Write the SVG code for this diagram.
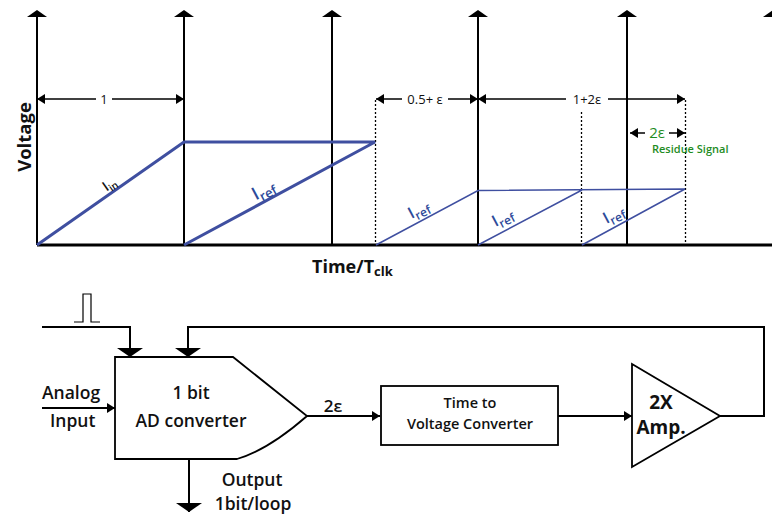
<svg xmlns="http://www.w3.org/2000/svg" width="772" height="516" viewBox="0 0 772 516">
<style>
text{font-family:"Open Sans","Noto Sans","Liberation Sans",sans-serif;fill:#111;}
.b{font-weight:700;}
.sb{font-weight:600;}
.ax{stroke:#000;stroke-width:2;fill:none;}
.base{stroke:#000;stroke-width:3;fill:none;}
.dot{stroke:#000;stroke-width:1.3;stroke-dasharray:2 2;fill:none;}
.dim{stroke:#000;stroke-width:1.5;fill:none;marker-start:url(#dh);marker-end:url(#dh);}
.bl{stroke:#3f4fa0;stroke-width:3;fill:none;}
.blt{stroke:#3f4fa0;stroke-width:1.5;fill:none;}
.ref{fill:#2d4a9a;}
.grn{fill:#1e8c1e;}
.wire{stroke:#000;stroke-width:2;fill:none;}
.blk{stroke:#000;stroke-width:1.8;fill:#fff;}
</style>
<defs>
<marker id="up" viewBox="0 0 7 20" refX="0" refY="10" markerWidth="7" markerHeight="20" markerUnits="userSpaceOnUse" orient="auto"><path d="M0,0 L7,10 L0,20 z" fill="#000"/></marker>
<marker id="dh" viewBox="0 0 8 10" refX="8" refY="5" markerWidth="8" markerHeight="10" markerUnits="userSpaceOnUse" orient="auto-start-reverse"><path d="M0,0 L8,5 L0,10 z" fill="#000"/></marker>
<marker id="ah" viewBox="0 0 8 10" refX="8" refY="5" markerWidth="8" markerHeight="10" markerUnits="userSpaceOnUse" orient="auto"><path d="M0,0 L8,5 L0,10 z" fill="#000"/></marker>
<marker id="fl" viewBox="0 0 9 26" refX="9" refY="13" markerWidth="9" markerHeight="26" markerUnits="userSpaceOnUse" orient="auto"><path d="M0,0 L9,13 L0,26 z" fill="#000"/></marker>
</defs>

<g id="plot">
<g id="axes">
<path class="ax" d="M37,245 V17" marker-end="url(#up)"/>
<path class="ax" d="M184,245 V17" marker-end="url(#up)"/>
<path class="ax" d="M332,245 V17" marker-end="url(#up)"/>
<path class="ax" d="M478,245 V17" marker-end="url(#up)"/>
<path class="ax" d="M627,245 V17" marker-end="url(#up)"/>
<path class="ax" d="M773,245 V17" marker-end="url(#up)"/>
<path class="base" d="M37,245 H772"/>
</g>
<g id="dotted">
<path class="dot" d="M375.5,100 V245"/>
<path class="dot" d="M581.5,112 V245"/>
<path class="dot" d="M685.5,100 V245"/>
</g>
<g id="waveform">
<path class="bl" d="M37,245 L184,142 H375 L184,245"/>
<path class="blt" d="M376,245 L478,190.5 L685,189 L582,245 M478,245 L582,190"/>
</g>
<g id="dims">
<path class="dim" d="M37,99 H184"/>
<rect x="96" y="90" width="16" height="18" fill="#fff"/>
<text x="104" y="104" text-anchor="middle" font-size="13">1</text>
<path class="dim" d="M376,99 H478"/>
<rect x="402" y="90" width="46" height="18" fill="#fff"/>
<text x="425" y="104" text-anchor="middle" font-size="13">0.5+ ε</text>
<path class="dim" d="M478,99 H685"/>
<rect x="566" y="90" width="42" height="18" fill="#fff"/>
<text x="587" y="104" text-anchor="middle" font-size="13">1+2ε</text>
<path class="dim" d="M630,133 H685"/>
<rect x="645" y="125" width="24" height="15" fill="#fff"/>
<text x="657" y="138" text-anchor="middle" font-size="15" class="grn">2ε</text>
<text x="652" y="153" font-size="11" class="grn sb">Residue Signal</text>
</g>
<g id="labels">
<text transform="translate(112,188) rotate(-35)" text-anchor="middle" font-size="14" class="sb">I<tspan font-size="10" dy="3">in</tspan></text>
<text transform="translate(266,195) rotate(-28)" text-anchor="middle" font-size="18" class="ref sb">I<tspan font-size="13" dy="4">ref</tspan></text>
<text transform="translate(421,214) rotate(-28)" text-anchor="middle" font-size="16" class="ref sb">I<tspan font-size="12" dy="4">ref</tspan></text>
<text transform="translate(505,222) rotate(-28)" text-anchor="middle" font-size="16" class="ref sb">I<tspan font-size="12" dy="4">ref</tspan></text>
<text transform="translate(616,219) rotate(-28)" text-anchor="middle" font-size="16" class="ref sb">I<tspan font-size="12" dy="4">ref</tspan></text>
<text transform="translate(31,137) rotate(-90)" text-anchor="middle" font-size="18.5" class="b">Voltage</text>
<text x="312" y="273" font-size="18" class="b">Time/T<tspan font-size="13" dy="3">clk</tspan></text>
</g>
</g>

<g id="connectors">
<path class="wire" d="M74,322 H83 V294 H91 V322 H100" style="stroke-width:1.2"/>
<path class="wire" d="M42,327 H130 V357" marker-end="url(#fl)"/>
<path class="wire" d="M720,416 H764 V327 H188 V357" marker-end="url(#fl)"/>
<path class="wire" d="M42,408 H115" marker-end="url(#ah)"/>
<path class="wire" d="M189,459 V512" marker-end="url(#fl)"/>
<path class="wire" d="M307,416 H380" marker-end="url(#ah)"/>
<path class="wire" d="M558,416 H632" marker-end="url(#ah)"/>
</g>

<g id="adc">
<path class="blk" d="M115,357 H233 L307,416 Q268,450 237,459 H115 Z"/>
<text x="191" y="399" text-anchor="middle" font-size="17.5" class="sb">1 bit</text>
<text x="191" y="427" text-anchor="middle" font-size="17.5" class="sb">AD converter</text>
</g>
<g id="analog-input">
<text x="42" y="399" font-size="17.5" class="sb">Analog</text>
<text x="50" y="427" font-size="17.5" class="sb">Input</text>
</g>
<g id="output">
<text x="252" y="486" text-anchor="middle" font-size="17.5" class="sb">Output</text>
<text x="253" y="510" text-anchor="middle" font-size="17.5" class="sb">1bit/loop</text>
</g>
<g id="eps-label">
<text x="333" y="412" text-anchor="middle" font-size="17" class="sb">2ε</text>
</g>
<g id="tvc">
<rect class="blk" x="381" y="386" width="177" height="59"/>
<text x="470" y="408" text-anchor="middle" font-size="14.5" class="sb">Time to</text>
<text x="470" y="429" text-anchor="middle" font-size="14.5" class="sb">Voltage Converter</text>
</g>
<g id="amp">
<path class="blk" d="M632,364 L720,416 L632,467 Z"/>
<text x="661" y="409" text-anchor="middle" font-size="19" class="b">2X</text>
<text x="661" y="434" text-anchor="middle" font-size="19" class="b">Amp.</text>
</g>
</svg>
